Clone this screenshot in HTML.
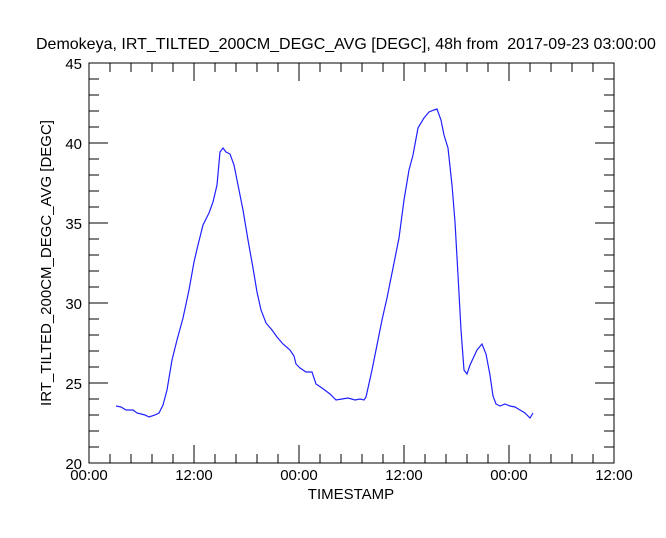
<!DOCTYPE html>
<html><head><style>body{margin:0;background:#fff}</style></head><body>
<svg width="666" height="533" xmlns="http://www.w3.org/2000/svg" font-family="Liberation Sans, sans-serif">
<rect width="666" height="533" fill="#fff"/>
<text x="36" y="49" font-size="16" fill="#000" xml:space="preserve">Demokeya, IRT_TILTED_200CM_DEGC_AVG [DEGC], 48h from  2017-09-23 03:00:00</text>
<rect x="89" y="63" width="525" height="400" fill="none" stroke="#000" stroke-width="1"/>
<g stroke="#000" stroke-width="1">
<path d="M110,463v-9M131,463v-9M152,463v-9M173,463v-9M194,463v-18M215,463v-9M236,463v-9M257,463v-9M278,463v-9M299,463v-18M320,463v-9M341,463v-9M362,463v-9M383,463v-9M404,463v-18M425,463v-9M446,463v-9M467,463v-9M488,463v-9M509,463v-18M530,463v-9M551,463v-9M572,463v-9M593,463v-9"/>
<path d="M110,63v9M131,63v9M152,63v9M173,63v9M194,63v18M215,63v9M236,63v9M257,63v9M278,63v9M299,63v18M320,63v9M341,63v9M362,63v9M383,63v9M404,63v18M425,63v9M446,63v9M467,63v9M488,63v9M509,63v18M530,63v9M551,63v9M572,63v9M593,63v9"/>
<path d="M89,79h10M89,95h10M89,111h10M89,127h10M89,143h19M89,159h10M89,175h10M89,191h10M89,207h10M89,223h19M89,239h10M89,255h10M89,271h10M89,287h10M89,303h19M89,319h10M89,335h10M89,351h10M89,367h10M89,383h19M89,399h10M89,415h10M89,431h10M89,447h10"/>
<path d="M614,79h-10M614,95h-10M614,111h-10M614,127h-10M614,143h-19M614,159h-10M614,175h-10M614,191h-10M614,207h-10M614,223h-19M614,239h-10M614,255h-10M614,271h-10M614,287h-10M614,303h-19M614,319h-10M614,335h-10M614,351h-10M614,367h-10M614,383h-19M614,399h-10M614,415h-10M614,431h-10M614,447h-10"/>
</g>
<g font-size="15" fill="#000" text-anchor="end">
<text x="82" y="69">45</text><text x="82" y="149">40</text><text x="82" y="229">35</text><text x="82" y="309">30</text><text x="82" y="389">25</text><text x="82" y="469">20</text>
</g>
<g font-size="15" fill="#000" text-anchor="middle">
<text x="89" y="480">00:00</text><text x="194" y="480">12:00</text><text x="299" y="480">00:00</text><text x="404" y="480">12:00</text><text x="509" y="480">00:00</text><text x="614" y="480">12:00</text>
<text x="351" y="499">TIMESTAMP</text>
<text transform="translate(51,263) rotate(-90)">IRT_TILTED_200CM_DEGC_AVG [DEGC]</text>
</g>
<polyline fill="none" stroke="#2020ff" stroke-width="1.2" points="116,406 121,407 126,410 133,410 137,413 145,415 149,417 155,415 159,413 163,405 167,390 172,360 177,340 183,318 189,290 194,262 198,245 203,225 209,213 213,202 217,185 220,152 223,148 226,152 230,154 234,165 238,185 243,210 248,240 253,268 257,292 261,310 266,323 272,330 277,337 283,344 290,350 294,356 296,364 300,368 306,372 312,372 316,384 322,388 330,394 336,400 342,399 348,398 355,400 360,399 364,400 366,397 372,370 377,345 382,320 387,298 393,268 399,238 404,200 409,170 413,155 418,128 424,118 429,112 434,110 437,109 441,120 444,135 448,148 452,185 455,222 458,275 461,330 464,370 467,374 470,365 477,350 482,344 486,354 490,375 493,396 496,404 500,406 505,404 510,406 515,407 520,410 525,413 530,418 533,413"/>
</svg>
</body></html>
